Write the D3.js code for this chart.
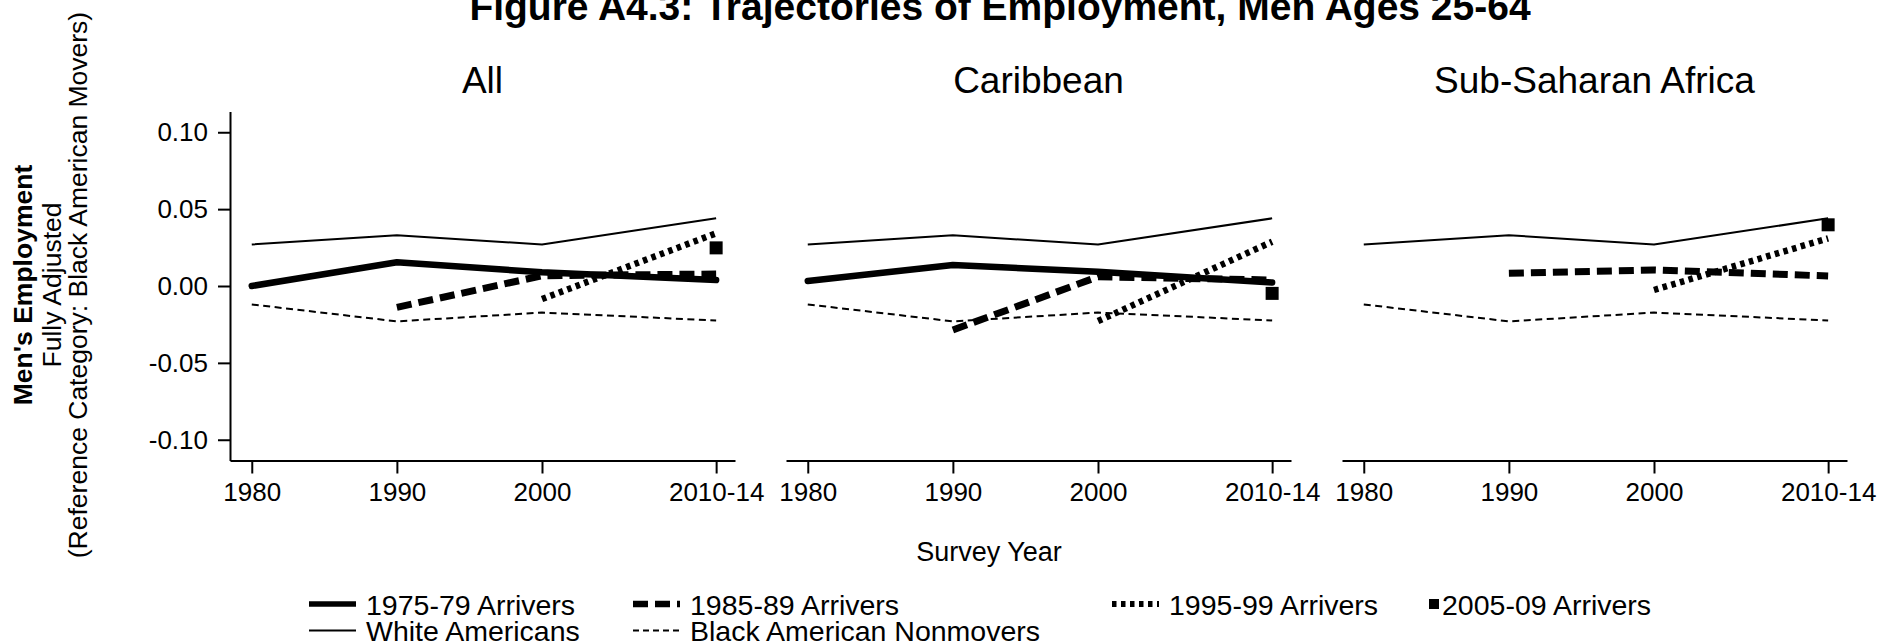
<!DOCTYPE html>
<html>
<head>
<meta charset="utf-8">
<script src="https://cdn.jsdelivr.net/npm/d3@7"></script>
<style>
  body { margin: 0; background: #fff; }
  text { font-family: "Liberation Sans", Arial, Helvetica, sans-serif; fill: #000; }
</style>
</head>
<body>
<svg width="1883" height="644"></svg>
<script>
// The svg
var svg = d3.select("svg"),
    width = +svg.attr("width"),
    height = +svg.attr("height");

// Data
var panels = ["All", "Caribbean", "Sub-Saharan Africa"];
var years = [1980, 1990, 2000, 2012];          // 2010-14 plotted at 2012
var yearLabels = ["1980", "1990", "2000", "2010-14"];
var yTicks = [-0.10, -0.05, 0.00, 0.05, 0.10];

// same comparison lines in every panel
var whiteAmericans = [0.027, 0.033, 0.027, 0.044];
var blackNonmovers = [-0.012, -0.023, -0.0173, -0.0224];

// arrival cohorts, one array per panel (null = not observed)
var arr7579All   = [0.000, 0.0154, 0.0089, 0.0039];
var arr7579Carib = [0.0033, 0.0137, 0.0093, 0.0022];
var arr7579SSA   = [null, null, null, null];

var arr8589All   = [null, -0.0139, 0.0067, 0.0078];
var arr8589Carib = [null, -0.0286, 0.006, 0.0039];
var arr8589SSA   = [null, 0.0083, 0.0104, 0.0065];

var arr9599All   = [null, null, -0.0085, 0.0343];
var arr9599Carib = [null, null, -0.0228, 0.0288];
var arr9599SSA   = [null, null, -0.0026, 0.031];

var arr0509 = [0.0248, -0.0048, 0.0398];       // 2010-14 only: All, Caribbean, SSA

// Series styling
var series = [
  { name: "1975-79 Arrivers", values: [arr7579All, arr7579Carib, arr7579SSA], width: 6.5, dash: null, cap: "round" },
  { name: "1985-89 Arrivers", values: [arr8589All, arr8589Carib, arr8589SSA], width: 7, dash: "15,7", cap: "butt" },
  { name: "1995-99 Arrivers", values: [arr9599All, arr9599Carib, arr9599SSA], width: 6.5, dash: "4.5,4.5", cap: "butt" },
  { name: "White Americans", values: [whiteAmericans, whiteAmericans, whiteAmericans], width: 2, dash: null, cap: "butt" },
  { name: "Black American Nonmovers", values: [blackNonmovers, blackNonmovers, blackNonmovers], width: 2, dash: "7,4.5", cap: "butt" }
];

svg.append("rect").attr("width", width).attr("height", height).attr("fill", "#fff");

// Scales
var panelLeft = 230, panelStep = 556, panelWidth = 505;
var x = d3.scaleLinear().domain([1978.5, 2013.3]).range([0, panelWidth]);
var y = d3.scaleLinear().domain([-0.1135, 0.1135]).range([460.5, 111.5]);

var line = d3.line()
    .defined(function(d) { return d.v != null; })
    .x(function(d) { return x(d.year); })
    .y(function(d) { return y(d.v); });

// Title
svg.append("text")
    .attr("x", 1000).attr("y", 20)
    .attr("text-anchor", "middle")
    .style("font-size", "39px").style("font-weight", "bold")
    .text("Figure A4.3: Trajectories of Employment, Men Ages 25-64");

panels.forEach(function(p, i) {
  var g = svg.append("g").attr("transform", "translate(" + (panelLeft + i * panelStep) + ",0)");

  // panel title
  g.append("text")
      .attr("x", panelWidth / 2).attr("y", 93)
      .attr("text-anchor", "middle")
      .style("font-size", "37px")
      .text(p);

  // x axis
  var xAxis = g.append("g")
      .attr("transform", "translate(0," + y.range()[0] + ")")
      .call(d3.axisBottom(x)
          .tickValues(years)
          .tickFormat(function(d, k) { return yearLabels[k]; })
          .tickSize(13).tickSizeOuter(0).tickPadding(9));
  xAxis.selectAll("path, line").attr("stroke", "#000").attr("stroke-width", 2);
  xAxis.selectAll("text").style("font-size", "26px").attr("fill", "#000")
      .attr("font-family", null);

  // y axis only on the first panel
  if (i === 0) {
    var yAxis = g.append("g")
        .call(d3.axisLeft(y)
            .tickValues(yTicks)
            .tickFormat(function(d) { return d.toFixed(2); })
            .tickSize(12).tickSizeOuter(0).tickPadding(10));
    yAxis.selectAll("path, line").attr("stroke", "#000").attr("stroke-width", 2);
    yAxis.selectAll("text").style("font-size", "26px").attr("fill", "#000")
        .attr("font-family", null);
  }

  // lines
  series.forEach(function(s) {
    var vals = s.values[i];
    var pts = years.map(function(yr, k) { return { year: yr, v: vals[k] }; });
    g.append("path")
        .datum(pts)
        .attr("d", line)
        .attr("fill", "none")
        .attr("stroke", "#000")
        .attr("stroke-width", s.width)
        .attr("stroke-dasharray", s.dash)
        .attr("stroke-linecap", s.cap)
        .attr("stroke-linejoin", "round");
  });

  // 2005-09 arrivers: single square marker at 2010-14
  g.append("rect")
      .attr("x", x(years[3]) - 6.5).attr("y", y(arr0509[i]) - 6.5)
      .attr("width", 13).attr("height", 13)
      .attr("fill", "#000");
});

// Axis titles
svg.append("text")
    .attr("x", 989).attr("y", 561)
    .attr("text-anchor", "middle")
    .style("font-size", "27px")
    .text("Survey Year");

var yTitle = [
  { t: "Men's Employment", x: 32, bold: true },
  { t: "Fully Adjusted", x: 61, bold: false },
  { t: "(Reference Category: Black American Movers)", x: 87, bold: false }
];
yTitle.forEach(function(d) {
  svg.append("text")
      .attr("transform", "translate(" + d.x + ",285) rotate(-90)")
      .attr("text-anchor", "middle")
      .style("font-size", "26.5px")
      .style("font-weight", d.bold ? "bold" : "normal")
      .text(d.t);
});

// Legend
var legendItems = [
  { name: "1975-79 Arrivers", x: 309, row: 0, width: 5.5, dash: null },
  { name: "1985-89 Arrivers", x: 633, row: 0, width: 6.5, dash: "15,7" },
  { name: "1995-99 Arrivers", x: 1112, row: 0, width: 6, dash: "4.5,4.5" },
  { name: "2005-09 Arrivers", x: 1429, row: 0, square: true },
  { name: "White Americans", x: 309, row: 1, width: 1.8, dash: null },
  { name: "Black American Nonmovers", x: 633, row: 1, width: 1.8, dash: "6,4" }
];
var rowY = [604, 630.5];

var legend = svg.append("g");
legendItems.forEach(function(d) {
  var cy = rowY[d.row];
  if (d.square) {
    legend.append("rect")
        .attr("x", d.x).attr("y", cy - 5)
        .attr("width", 10).attr("height", 10)
        .attr("fill", "#000");
    legend.append("text")
        .attr("x", d.x + 13).attr("y", cy + 10.5)
        .style("font-size", "28.5px")
        .text(d.name);
  } else {
    legend.append("line")
        .attr("x1", d.x).attr("x2", d.x + 47)
        .attr("y1", cy).attr("y2", cy)
        .attr("stroke", "#000")
        .attr("stroke-width", d.width)
        .attr("stroke-dasharray", d.dash);
    legend.append("text")
        .attr("x", d.x + 57).attr("y", cy + 10.5)
        .style("font-size", "28.5px")
        .text(d.name);
  }
});
</script>
</body>
</html>
